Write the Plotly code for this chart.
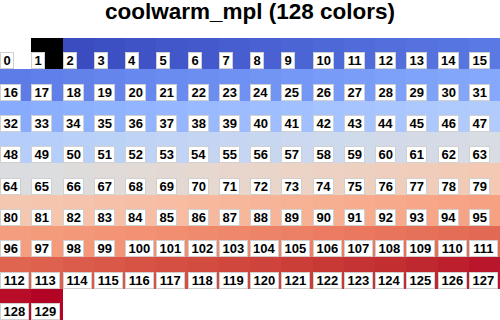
import plotly.graph_objects as go
from plotly.colors import sample_colorscale

# ---- data ----
TITLE = "coolwarm_mpl (128 colors)"
N_COLORS = 128
N_COLS = 16
# coolwarm anchor points (matplotlib definition), position, r, g, b
CW_POS = [i / 32 for i in range(33)]
CW_R = [0.2298057, 0.26623388, 0.30386891, 0.342804478, 0.38301334, 0.424369608, 0.46666708,
        0.509635204, 0.552953156, 0.596262162, 0.639176211, 0.681291281, 0.722193294, 0.761464949,
        0.798691636, 0.833466556, 0.865395197, 0.897787179, 0.924127593, 0.944468518, 0.958852946,
        0.96732803, 0.969954137, 0.966811177, 0.958003065, 0.943660866, 0.923944917, 0.89904617,
        0.869186849, 0.834620542, 0.795631745, 0.752534934, 0.705673158]
CW_G = [0.298717966, 0.353094838, 0.406535296, 0.458757618, 0.50941904, 0.558148092, 0.604562568,
        0.648280772, 0.688929332, 0.726149107, 0.759599947, 0.788964712, 0.813952739, 0.834302879,
        0.849786142, 0.860207984, 0.86541021, 0.848937047, 0.827384882, 0.800927443, 0.769767752,
        0.734132809, 0.694266682, 0.650421156, 0.602842431, 0.551750968, 0.49730856, 0.439559467,
        0.378313092, 0.312874446, 0.24128379, 0.157246067, 0.01555616]
CW_B = [0.753683153, 0.801466763, 0.84495867, 0.883725899, 0.917387822, 0.945619588, 0.968154911,
        0.98478814, 0.995375608, 0.999836203, 0.998151185, 0.990363227, 0.976574709, 0.956945269,
        0.931688648, 0.901068838, 0.865395561, 0.820880546, 0.774508472, 0.726736146, 0.678007945,
        0.628751763, 0.579375448, 0.530263762, 0.481775914, 0.434243684, 0.387970225, 0.343229596,
        0.300267182, 0.259301199, 0.221309491, 0.185556072, 0.150232812]
LEADING = ["#ffffff", "#000000"]  # background / foreground slots 0 and 1

# ---- build colors ----
cw_scale = [[p, "rgb(%d,%d,%d)" % (round(r * 255), round(g * 255), round(b * 255))]
            for p, r, g, b in zip(CW_POS, CW_R, CW_G, CW_B)]
cw = sample_colorscale(cw_scale, [i / (N_COLORS - 1) for i in range(N_COLORS)])
colors = LEADING + cw
n = len(colors)
n_rows = -(-n // N_COLS)

# discrete colorscale
cs = []
for i, c in enumerate(colors):
    cs.append([i / n, c])
    cs.append([(i + 1) / n, c])

z = []
for r in range(n_rows):
    row = []
    for c in range(N_COLS):
        idx = r * N_COLS + c
        row.append(idx if idx < n else None)
    z.append(row)

fig = go.Figure(go.Heatmap(
    z=z, colorscale=cs, zmin=-0.5, zmax=n - 0.5, showscale=False,
    hoverinfo="skip", xgap=0, ygap=0,
))

FONT = "Liberation Sans, Arial, Helvetica, sans-serif"
for idx in range(n):
    r, c = divmod(idx, N_COLS)
    label = str(idx)
    fig.add_annotation(
        x=c - 0.5, y=r + 0.5, xref="x", yref="y",
        xanchor="left", yanchor="bottom",
        text="<b>%s</b>" % label, showarrow=False,
        font=dict(family=FONT, size=13, color="black"),
        bgcolor="white", bordercolor="#d0d0d0", borderwidth=1, borderpad=0,
        width=len(label) * 7.2 + 5, height=15,
    )

fig.update_layout(
    width=500, height=320,
    margin=dict(l=0, r=0, t=38, b=0),
    paper_bgcolor="white", plot_bgcolor="white",
    title=dict(text="<b>%s</b>" % TITLE, x=0.5, xanchor="center", y=1 - 11 / 320, yanchor="middle",
               font=dict(family=FONT, size=22.5, color="black")),
    xaxis=dict(range=[-0.5, N_COLS - 0.5], visible=False, fixedrange=True),
    yaxis=dict(range=[n_rows - 0.5, -0.5], visible=False, fixedrange=True),
)

fig.write_html("out.html")
